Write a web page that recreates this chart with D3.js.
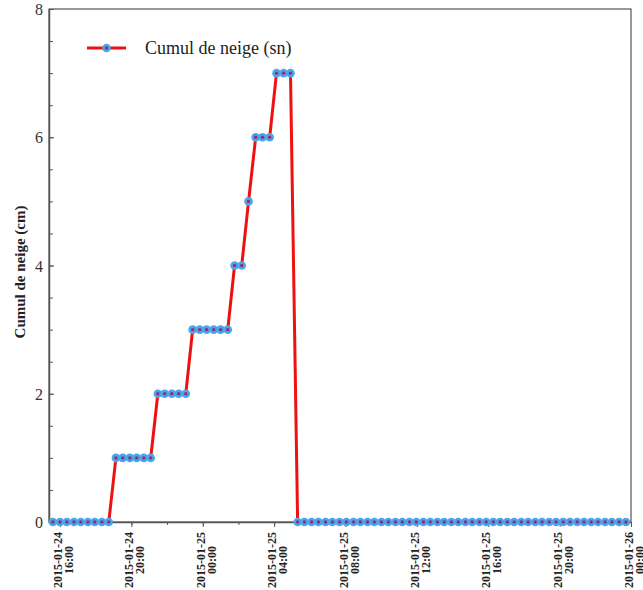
<!DOCTYPE html>
<html>
<head>
<meta charset="utf-8">
<script src="https://cdn.jsdelivr.net/npm/d3@7"></script>
<style>
  body { margin: 0; background: #fff; }
  svg { display: block; }
</style>
</head>
<body>
<script>
var width = 643,
  height = 590;

var times = [
  "2015-01-24 15:36", "2015-01-24 16:00", "2015-01-24 16:23", "2015-01-24 16:47",
  "2015-01-24 17:10", "2015-01-24 17:34", "2015-01-24 17:57", "2015-01-24 18:21",
  "2015-01-24 18:44", "2015-01-24 19:08", "2015-01-24 19:31", "2015-01-24 19:55",
  "2015-01-24 20:18", "2015-01-24 20:42", "2015-01-24 21:05", "2015-01-24 21:29",
  "2015-01-24 21:52", "2015-01-24 22:16", "2015-01-24 22:39", "2015-01-24 23:03",
  "2015-01-24 23:26", "2015-01-24 23:50", "2015-01-25 00:13", "2015-01-25 00:37",
  "2015-01-25 01:00", "2015-01-25 01:24", "2015-01-25 01:47", "2015-01-25 02:11",
  "2015-01-25 02:34", "2015-01-25 02:58", "2015-01-25 03:21", "2015-01-25 03:45",
  "2015-01-25 04:08", "2015-01-25 04:32", "2015-01-25 04:55", "2015-01-25 05:19",
  "2015-01-25 05:42", "2015-01-25 06:06", "2015-01-25 06:29", "2015-01-25 06:53",
  "2015-01-25 07:16", "2015-01-25 07:40", "2015-01-25 08:03", "2015-01-25 08:27",
  "2015-01-25 08:50", "2015-01-25 09:14", "2015-01-25 09:37", "2015-01-25 10:01",
  "2015-01-25 10:24", "2015-01-25 10:48", "2015-01-25 11:11", "2015-01-25 11:35",
  "2015-01-25 11:58", "2015-01-25 12:22", "2015-01-25 12:45", "2015-01-25 13:09",
  "2015-01-25 13:32", "2015-01-25 13:56", "2015-01-25 14:19", "2015-01-25 14:43",
  "2015-01-25 15:06", "2015-01-25 15:30", "2015-01-25 15:53", "2015-01-25 16:17",
  "2015-01-25 16:40", "2015-01-25 17:04", "2015-01-25 17:27", "2015-01-25 17:51",
  "2015-01-25 18:14", "2015-01-25 18:38", "2015-01-25 19:01", "2015-01-25 19:25",
  "2015-01-25 19:48", "2015-01-25 20:12", "2015-01-25 20:35", "2015-01-25 20:59",
  "2015-01-25 21:22", "2015-01-25 21:46", "2015-01-25 22:09", "2015-01-25 22:33",
  "2015-01-25 22:56", "2015-01-25 23:20", "2015-01-25 23:43"
];

// snow depth (cm)
var snow = [
  0, 0, 0, 0, 0, 0, 0, 0, 0,
  1, 1, 1, 1, 1, 1,
  2, 2, 2, 2, 2,
  3, 3, 3, 3, 3, 3,
  4, 4,
  5,
  6, 6, 6,
  7, 7, 7,
  0, 0, 0, 0, 0, 0, 0, 0, 0, 0, 0, 0, 0, 0, 0, 0,
  0, 0, 0, 0, 0, 0, 0, 0, 0, 0, 0, 0, 0, 0, 0, 0,
  0, 0, 0, 0, 0, 0, 0, 0, 0, 0, 0, 0, 0, 0, 0, 0
];

var xTicks = [
  "2015-01-24 16:00", "2015-01-24 20:00", "2015-01-25 00:00", "2015-01-25 04:00",
  "2015-01-25 08:00", "2015-01-25 12:00", "2015-01-25 16:00", "2015-01-25 20:00",
  "2015-01-26 00:00"
];
var yTicks = [0, 2, 4, 6, 8];

var seriesName = "Cumul de neige (sn)";
var yTitle = "Cumul de neige (cm)";

var parse = d3.timeParse("%Y-%m-%d %H:%M");

var data = times.map(function (t, i) {
  return { t: parse(t), v: snow[i] };
});

var plotLeft = 49, plotRight = 631, plotTop = 9, plotBottom = 522;

var svg = d3.select("body")
  .append("svg")
  .attr("width", width)
  .attr("height", height);

//----------scales----------
var xScale = d3.scaleTime()
  .domain([parse("2015-01-24 15:23"), parse("2015-01-26 00:00")])
  .range([plotLeft, plotRight]);

var yScale = d3.scaleLinear()
  .domain([0, 8])
  .range([plotBottom, plotTop]);

var serif = "'Liberation Serif', 'Times New Roman', serif";

//----------frame----------
svg.append("rect")
  .attr("x", plotLeft)
  .attr("y", plotTop)
  .attr("width", plotRight - plotLeft)
  .attr("height", plotBottom - plotTop)
  .attr("fill", "none")
  .attr("stroke", "#333")
  .attr("stroke-width", 1);

//----------Y axis----------
var yMinor = d3.axisLeft(yScale)
  .tickValues(d3.range(0, 8.01, 0.5))
  .tickSizeInner(-4)
  .tickSizeOuter(0)
  .tickFormat("");

svg.append("g")
  .attr("transform", "translate(" + plotLeft + ",0)")
  .call(yMinor)
  .call(function (g) { g.select(".domain").remove(); })
  .selectAll("line").attr("stroke", "#555");

var yAxis = d3.axisLeft(yScale)
  .tickValues(yTicks)
  .tickSizeInner(-5)
  .tickSizeOuter(0)
  .tickPadding(6)
  .tickFormat(d3.format("d"));

var gy = svg.append("g")
  .attr("transform", "translate(" + plotLeft + ",0)")
  .call(yAxis);
gy.select(".domain").attr("stroke", "#555").attr("stroke-width", 1.5);
gy.selectAll("line").attr("stroke", "#555");
gy.selectAll("text")
  .attr("font-family", serif)
  .attr("font-size", 16)
  .attr("fill", "#333")
  .attr("dy", "0.35em");

svg.append("text")
  .attr("transform", "rotate(-90)")
  .attr("x", -272)
  .attr("y", 25)
  .attr("text-anchor", "middle")
  .attr("font-family", serif)
  .attr("font-weight", "bold")
  .attr("font-size", 15)
  .attr("fill", "#222")
  .text(yTitle);

//----------X axis----------
var xMinor = d3.axisBottom(xScale)
  .ticks(d3.timeHour.every(2))
  .tickSizeInner(3)
  .tickSizeOuter(0)
  .tickFormat("");

svg.append("g")
  .attr("transform", "translate(0," + plotBottom + ")")
  .call(xMinor)
  .call(function (g) { g.select(".domain").remove(); })
  .selectAll("line").attr("stroke", "#555");

var xAxis = d3.axisBottom(xScale)
  .tickValues(xTicks.map(parse))
  .tickSizeInner(5)
  .tickSizeOuter(0)
  .tickFormat("");

var gx = svg.append("g")
  .attr("transform", "translate(0," + plotBottom + ")")
  .call(xAxis);
gx.select(".domain").attr("stroke", "#555").attr("stroke-width", 1.5);
gx.selectAll("line").attr("stroke", "#555");

var fmtDay = d3.timeFormat("%Y-%m-%d"),
  fmtHour = d3.timeFormat("%H:%M");

var xLabels = svg.append("g")
  .selectAll("g")
  .data(xTicks.map(parse))
  .enter()
  .append("g")
  .attr("transform", function (d) {
    return "translate(" + xScale(d) + ",560) rotate(-90)";
  })
  .attr("font-family", serif)
  .attr("font-weight", "bold")
  .attr("font-size", 12)
  .attr("fill", "#222")
  .attr("text-anchor", "middle");

xLabels.append("text")
  .attr("y", 2)
  .text(fmtDay);
xLabels.append("text")
  .attr("y", 13)
  .text(fmtHour);

//----------line and points----------
var line = d3.line()
  .x(function (d) { return xScale(d.t); })
  .y(function (d) { return yScale(d.v); });

svg.append("path")
  .datum(data)
  .attr("d", line)
  .attr("fill", "none")
  .attr("stroke", "#ee1111")
  .attr("stroke-width", 3);

var pts = svg.append("g")
  .selectAll("g")
  .data(data)
  .enter()
  .append("g")
  .attr("transform", function (d) {
    return "translate(" + xScale(d.t) + "," + yScale(d.v) + ")";
  });

pts.append("circle")
  .attr("r", 4.3)
  .attr("fill", "#48a6ea");
pts.append("circle")
  .attr("r", 1.7)
  .attr("fill", "#9a2a78");

//----------legend----------
var legend = svg.append("g")
  .attr("transform", "translate(87,48)");

legend.append("line")
  .attr("x1", 0)
  .attr("x2", 39)
  .attr("stroke", "#ee1111")
  .attr("stroke-width", 3);
legend.append("circle")
  .attr("cx", 19.5)
  .attr("r", 4.3)
  .attr("fill", "#48a6ea");
legend.append("circle")
  .attr("cx", 19.5)
  .attr("r", 1.7)
  .attr("fill", "#9a2a78");
legend.append("text")
  .attr("x", 58)
  .attr("y", 6)
  .attr("font-family", serif)
  .attr("font-size", 18)
  .attr("fill", "#222")
  .text(seriesName);
</script>
</body>
</html>
